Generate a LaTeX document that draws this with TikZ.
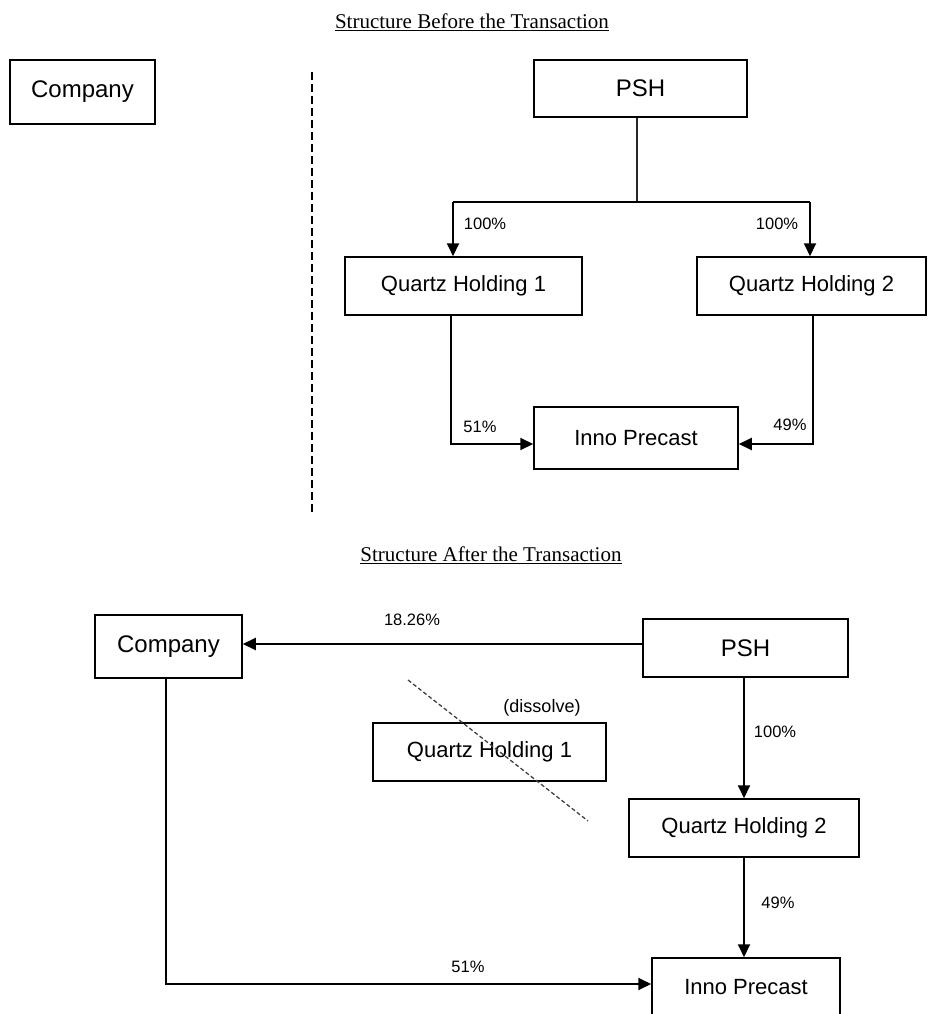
\documentclass[tikz,border=0pt]{standalone}
\usepackage{fontspec}
\setmainfont{Liberation Serif}
\setsansfont{Liberation Sans}
\usetikzlibrary{arrows.meta}
\begin{document}
\begin{tikzpicture}[x=1pt,y=-1pt,
  box/.style={draw=black,line width=1.5pt,fill=white,inner sep=0pt,
    font=\sffamily\fontsize{22}{26}\selectfont},
  bigbox/.style={box,font=\sffamily\fontsize{24}{28}\selectfont},
  arr/.style={line width=1.9pt,-{Triangle[length=13pt,width=12pt]}},
  pct/.style={inner sep=0pt,font=\sffamily\fontsize{16.5}{20}\selectfont},
  ttl/.style={inner sep=0pt,font=\rmfamily\fontsize{21}{25}\selectfont},
  sep/.style={line width=1.3pt,dash pattern=on 8pt off 4pt},
  cross/.style={line width=1.3pt,draw=black!75,dash pattern=on 4pt off 2.5pt}
]
\useasboundingbox (0,0) rectangle (928,1014);
\clip (0,0) rectangle (928,1014);

% ---------- Before ----------
\node[ttl] (t1) at (472,22) {\underline{Structure Before the Transaction}};
\node[bigbox,minimum width=145pt,minimum height=64pt] (comp1) at (82.5,92) {Company};
\node[bigbox,minimum width=213pt,minimum height=57pt] (psh1) at (640.5,88.5) {PSH};
\node[box,minimum width=237pt,minimum height=58pt] (qh1a) at (463.5,286) {Quartz Holding 1};
\node[box,minimum width=229pt,minimum height=58pt] (qh2a) at (811.5,286) {Quartz Holding 2};
\node[box,minimum width=204pt,minimum height=62pt] (inno1) at (636,438) {Inno Precast};

\coordinate (s1) at (312,72);
\coordinate (s2) at (312,513);
\draw[sep] (s1) -- (s2);

\coordinate (jm) at (637,202);
\coordinate (jl) at (453,202);
\coordinate (jr) at (810,202);
\draw[line width=1.3pt,draw=black!85] (psh1.south -| jm) -- (jm);
\draw[line width=1.9pt] (jl) -- (jr);
\draw[arr] (jl) -- (jl |- qh1a.north);
\draw[arr] (jr) -- (jr |- qh2a.north);
\node[pct] (p1) at (485,224) {100\%};
\node[pct] (p2) at (777,224) {100\%};

\coordinate (c1) at (451,444);
\coordinate (c2) at (813,444);
\draw[arr] (c1 |- qh1a.south) -- (c1) -- (c1 -| inno1.west);
\draw[arr] (c2 |- qh2a.south) -- (c2) -- (c2 -| inno1.east);
\node[pct] (p3) at (480,427) {51\%};
\node[pct] (p4) at (790,425) {49\%};

% ---------- After ----------
\node[ttl] (t2) at (491,555) {\underline{Structure After the Transaction}};
\node[bigbox,minimum width=147pt,minimum height=63pt] (comp2) at (168.5,646.5) {Company};
\node[bigbox,minimum width=205pt,minimum height=58pt] (psh2) at (745.5,648) {PSH};
\node[box,minimum width=233pt,minimum height=58pt] (qh1b) at (489.5,752) {Quartz Holding 1};
\node[box,minimum width=230pt,minimum height=58pt] (qh2b) at (744,828) {Quartz Holding 2};
\node[box,minimum width=188pt,minimum height=58pt] (inno2) at (746,987) {Inno Precast};

\coordinate (r1) at (500,644);
\draw[arr] (psh2.west |- r1) -- (comp2.east |- r1);
\node[pct] (p5) at (412,620) {18.26\%};

\draw[arr] (qh2b.north |- psh2.south) -- (qh2b.north);
\node[pct] (p6) at (775,732) {100\%};

\draw[arr] (qh2b.south) -- (qh2b.south |- inno2.north);
\node[pct] (p7) at (778,903) {49\%};

\coordinate (c3) at (166,984);
\draw[arr] (c3 |- comp2.south) -- (c3) -- (c3 -| inno2.west);
\node[pct] (p8) at (468,967) {51\%};

\node[inner sep=0pt,font=\sffamily\fontsize{18}{22}\selectfont] (dis) at (542,708) {(dissolve)};
\coordinate (d1) at (408,680);
\coordinate (d2) at (588,821);
\draw[cross] (d1) -- (d2);
\end{tikzpicture}
\end{document}
